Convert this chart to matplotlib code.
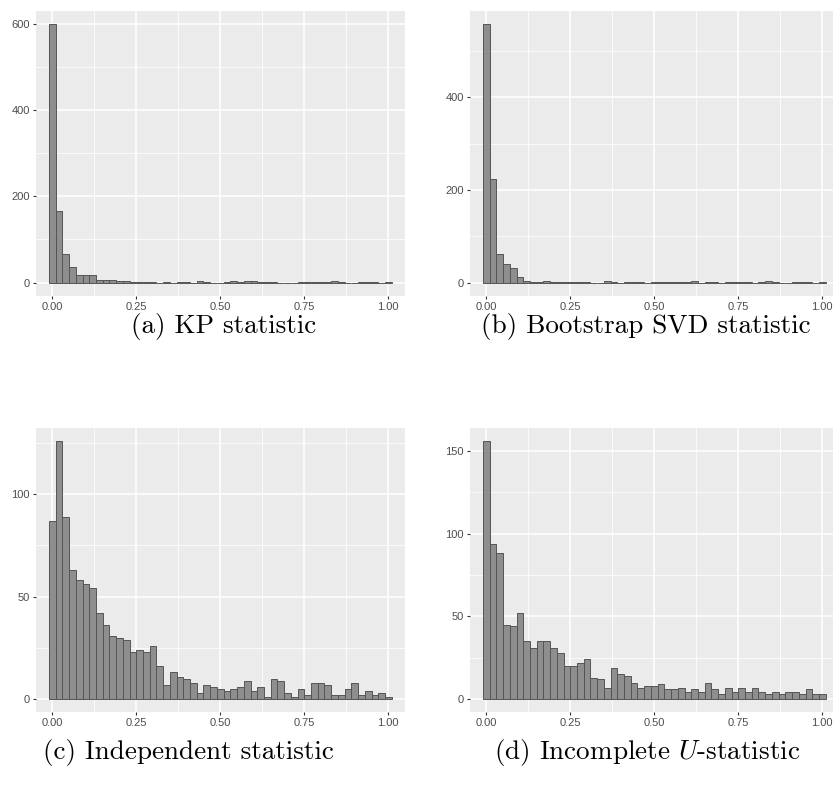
import numpy as np
import matplotlib
matplotlib.use("Agg")
import matplotlib.pyplot as plt
from matplotlib.ticker import FixedLocator

plt.rcParams['mathtext.fontset'] = 'cm'

# ---- data (counts per bin, binwidth 0.02, centres 0.00 .. 1.00) ----
bin_width = 0.02
bin_centers = np.round(np.arange(51) * bin_width, 2)

kp_counts = [600, 166, 67, 36, 17, 17, 17, 5, 6, 5,
             3, 3, 1, 1, 1, 1, 0, 1, 0, 1,
             1, 0, 3, 2, 0, 0, 1, 3, 1, 3,
             3, 1, 1, 1, 0, 0, 0, 2, 1, 1,
             1, 1, 3, 1, 0, 0, 1, 1, 1, 0,
             1]
svd_counts = [558, 223, 62, 40, 32, 12, 4, 1, 2, 4,
              2, 1, 1, 1, 1, 1, 0, 0, 3, 1,
              0, 2, 1, 2, 0, 1, 1, 1, 2, 1,
              1, 4, 0, 1, 1, 0, 1, 1, 1, 1,
              0, 1, 3, 1, 0, 0, 1, 1, 1, 0,
              1]
indep_counts = [87, 126, 89, 63, 58, 56, 54, 42, 36, 31,
                30, 29, 23, 24, 23, 26, 16, 7, 13, 11,
                10, 8, 3, 7, 6, 5, 4, 5, 6, 9,
                4, 6, 1, 10, 9, 3, 1, 5, 2, 8,
                8, 7, 2, 2, 5, 8, 2, 4, 2, 3,
                1]
incomp_counts = [156, 94, 88, 45, 44, 52, 35, 31, 35, 35,
                 31, 28, 20, 20, 22, 24, 13, 12, 7, 19,
                 15, 14, 10, 7, 8, 8, 9, 6, 6, 7,
                 4, 6, 4, 10, 6, 3, 7, 4, 7, 4,
                 7, 4, 3, 4, 3, 4, 4, 3, 6, 3,
                 3]

x_ticks = [0.0, 0.25, 0.5, 0.75, 1.0]
x_ticklabels = ["0.00", "0.25", "0.50", "0.75", "1.00"]
x_minor = [0.125, 0.375, 0.625, 0.875]

panels = [
    dict(counts=kp_counts, yticks=[0, 200, 400, 600], yminor=[100, 300, 500],
         caption="(a) KP statistic"),
    dict(counts=svd_counts, yticks=[0, 200, 400], yminor=[100, 300, 500],
         caption="(b) Bootstrap SVD statistic"),
    dict(counts=indep_counts, yticks=[0, 50, 100], yminor=[25, 75, 125],
         caption="(c) Independent statistic"),
    dict(counts=incomp_counts, yticks=[0, 50, 100, 150], yminor=[25, 75, 125],
         caption="(d) Incomplete $U$-statistic"),
]

W, H = 833, 785
fig = plt.figure(figsize=(W / 100, H / 100), dpi=100)

# pixel boxes (left, top, right, bottom)
boxes = [(36, 11, 405, 295.5), (470, 11, 839, 295.5),
         (36, 428, 405, 712), (470, 428, 839, 712)]
caption_pos = [(224, 327), (646, 327), (188, 752), (647, 752)]

bg = "#EBEBEB"
for p, (l, t, r, b), (cx, cy) in zip(panels, boxes, caption_pos):
    ax = fig.add_axes([l / W, 1 - b / H, (r - l) / W, (b - t) / H])
    ax.set_facecolor(bg)
    counts = p["counts"]
    ymax = max(counts)
    ax.bar(bin_centers, counts, width=bin_width, facecolor="#8E8E8E",
           edgecolor="#555555", linewidth=0.7, zorder=3)
    ax.set_xlim(-0.0485, 1.0497)
    ax.set_ylim(-0.05 * ymax, 1.05 * ymax)
    ax.xaxis.set_major_locator(FixedLocator(x_ticks))
    ax.set_xticklabels(x_ticklabels)
    ax.xaxis.set_minor_locator(FixedLocator(x_minor))
    ax.yaxis.set_major_locator(FixedLocator(p["yticks"]))
    ax.set_yticklabels([str(v) for v in p["yticks"]])
    ax.yaxis.set_minor_locator(FixedLocator(p["yminor"]))
    ax.grid(which="major", color="white", linewidth=1.1, zorder=0)
    ax.grid(which="minor", color="white", linewidth=0.55, zorder=0)
    ax.set_axisbelow(True)
    for s in ax.spines.values():
        s.set_visible(False)
    ax.tick_params(which="major", length=2.5, width=0.8, color="#333333",
                   labelcolor="#4D4D4D", labelsize=8, pad=2)
    ax.tick_params(which="minor", length=0)
    for lab in ax.get_xticklabels() + ax.get_yticklabels():
        lab.set_fontfamily("Liberation Sans")
    fig.text(cx / W, 1 - cy / H, p["caption"], ha="center", va="center",
             fontsize=19.5, fontfamily="cmr10")

fig.savefig("out.png", dpi=100, facecolor="white")
